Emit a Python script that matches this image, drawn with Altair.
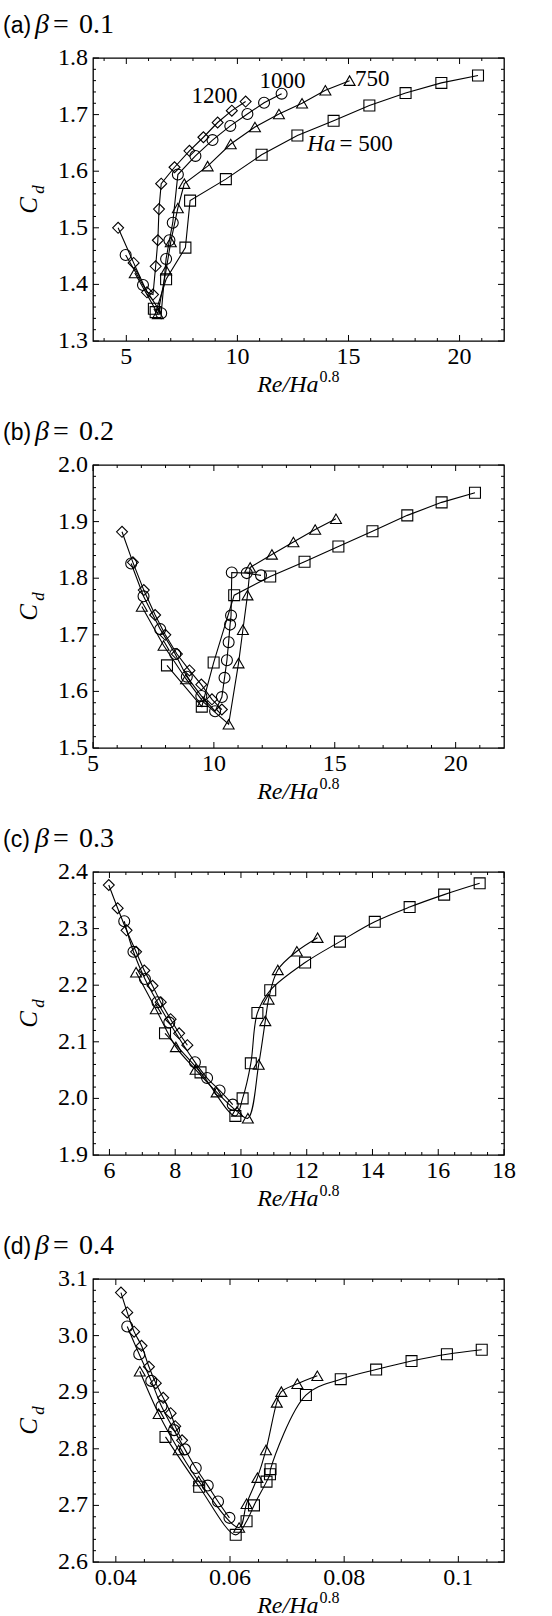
import altair as alt
import pandas as pd

SERIF = "Liberation Serif"
SANS = "Liberation Sans"
W, H = 411, 283

SERIES = ["500", "750", "1000", "1200"]
SHAPES = ["square", "triangle-up", "circle", "diamond"]

# ---------------- (a) beta = 0.1 ----------------
a_500_x = [6.24, 6.32, 6.79, 7.66, 7.87, 9.48, 11.09, 12.70, 14.33, 15.94, 17.57, 19.18, 20.83]
a_500_y = [1.357, 1.351, 1.409, 1.465, 1.548, 1.586, 1.629, 1.663, 1.689, 1.716, 1.738, 1.756, 1.769]
a_750_x = [5.38, 6.42, 6.79, 7.00, 7.32, 7.61, 8.66, 9.70, 10.79, 11.87, 12.91, 13.96, 15.05]
a_750_y = [1.420, 1.348, 1.425, 1.475, 1.535, 1.578, 1.609, 1.648, 1.678, 1.701, 1.720, 1.743, 1.760]
a_1000_x = [4.97, 5.75, 6.57, 6.79, 6.94, 7.09, 7.32, 8.11, 8.88, 9.68, 10.45, 11.20, 11.99]
a_1000_y = [1.452, 1.399, 1.349, 1.445, 1.478, 1.509, 1.594, 1.627, 1.655, 1.680, 1.701, 1.721, 1.737]
a_1200_x = [4.63, 5.33, 5.93, 6.20, 6.32, 6.42, 6.47, 6.57, 7.17, 7.84, 8.47, 9.11, 9.75, 10.37]
a_1200_y = [1.500, 1.438, 1.386, 1.382, 1.432, 1.478, 1.533, 1.578, 1.607, 1.636, 1.660, 1.686, 1.707, 1.723]

# ---------------- (b) beta = 0.2 ----------------
b_500_x = [8.06, 9.50, 9.99, 10.84, 12.33, 13.75, 15.15, 16.56, 18.00, 19.42, 20.80]
b_500_y = [1.646, 1.573, 1.651, 1.770, 1.803, 1.829, 1.856, 1.883, 1.911, 1.934, 1.951]
b_750_x = [7.02, 7.92, 8.85, 9.55, 10.61, 11.02, 11.20, 11.39, 11.50, 12.40, 13.29, 14.19, 15.05]
b_750_y = [1.750, 1.681, 1.622, 1.582, 1.542, 1.650, 1.709, 1.770, 1.819, 1.842, 1.864, 1.886, 1.905]
b_1000_x = [6.58, 7.09, 7.78, 8.40, 8.88, 9.48, 10.05, 10.33, 10.44, 10.54, 10.61, 10.67, 10.71, 10.74, 11.36, 11.95]
b_1000_y = [1.826, 1.768, 1.710, 1.666, 1.626, 1.592, 1.565, 1.590, 1.624, 1.655, 1.687, 1.718, 1.734, 1.810, 1.809, 1.805]
b_1200_x = [6.20, 6.65, 7.10, 7.57, 7.99, 8.47, 8.99, 9.48, 9.92, 10.33]
b_1200_y = [1.882, 1.828, 1.779, 1.735, 1.700, 1.666, 1.637, 1.612, 1.586, 1.568]

# ---------------- (c) beta = 0.3 ----------------
c_500_x = [7.69, 8.77, 9.83, 10.05, 10.30, 10.50, 10.89, 11.95, 13.01, 14.07, 15.13, 16.18, 17.26]
c_500_y = [2.115, 2.046, 1.969, 2.000, 2.062, 2.151, 2.191, 2.240, 2.277, 2.312, 2.338, 2.360, 2.380]
c_750_x = [6.81, 7.41, 8.02, 8.62, 9.26, 9.88, 10.21, 10.54, 10.74, 10.84, 11.12, 11.70, 12.33]
c_750_y = [2.223, 2.158, 2.091, 2.051, 2.011, 1.977, 1.965, 2.060, 2.137, 2.175, 2.227, 2.260, 2.284]
c_1000_x = [6.45, 6.73, 7.08, 7.46, 7.82, 8.60, 8.97, 9.35, 9.75]
c_1000_y = [2.313, 2.259, 2.211, 2.170, 2.134, 2.064, 2.036, 2.014, 1.989]
c_1200_x = [5.98, 6.25, 6.52, 6.81, 7.06, 7.31, 7.56, 7.86, 8.12, 8.37]
c_1200_y = [2.377, 2.336, 2.297, 2.259, 2.226, 2.199, 2.170, 2.140, 2.115, 2.094]

# ---------------- (d) beta = 0.4 ----------------
d_500_x = [0.0487, 0.0546, 0.0610, 0.0629, 0.0642, 0.0664, 0.0670, 0.0671, 0.0733, 0.0794, 0.0856, 0.0918, 0.0980, 0.1041]
d_500_y = [2.821, 2.733, 2.648, 2.672, 2.700, 2.742, 2.755, 2.764, 2.895, 2.923, 2.940, 2.955, 2.967, 2.975]
d_750_x = [0.0442, 0.0475, 0.0510, 0.0545, 0.0616, 0.0629, 0.0648, 0.0663, 0.0682, 0.0690, 0.0718, 0.0753]
d_750_y = [2.937, 2.862, 2.798, 2.743, 2.661, 2.703, 2.749, 2.798, 2.882, 2.901, 2.915, 2.929]
d_1000_x = [0.0420, 0.0441, 0.0462, 0.0480, 0.0502, 0.0521, 0.0540, 0.0561, 0.0579, 0.0599]
d_1000_y = [3.016, 2.967, 2.920, 2.875, 2.833, 2.799, 2.766, 2.735, 2.707, 2.678]
d_1200_x = [0.0409, 0.0420, 0.0432, 0.0445, 0.0458, 0.0470, 0.0483, 0.0496, 0.0504, 0.0516]
d_1200_y = [3.076, 3.041, 3.007, 2.982, 2.945, 2.916, 2.890, 2.863, 2.840, 2.815]

# labelled tick values and their printed labels
a_xmaj = [5, 10, 15, 20]
b_xmaj = [5, 10, 15, 20]
c_xmaj = [6, 8, 10, 12, 14, 16, 18]
d_xmaj = [0.04, 0.06, 0.08, 0.1]
d_xlab = ["0.04", "0.06", "0.08", "0.1"]
a_ymaj = [1.3, 1.4, 1.5, 1.6, 1.7, 1.8]
b_ymaj = [1.5, 1.6, 1.7, 1.8, 1.9, 2.0]
c_ymaj = [1.9, 2.0, 2.1, 2.2, 2.3, 2.4]
d_ymaj = [2.6, 2.7, 2.8, 2.9, 3.0, 3.1]


def minor(lo, hi, step, majors, nd=4):
    out, k = [], 0
    while True:
        v = round(lo + k * step, nd)
        if v > hi + 1e-9:
            break
        if all(abs(v - m) > 1e-9 for m in majors):
            out.append(v)
        k += 1
    return out


def long_frame(xs, ys):
    rows = []
    for s, xv, yv in zip(SERIES, xs, ys):
        for i, (a, b) in enumerate(zip(xv, yv)):
            rows.append({"s": s, "i": i, "x": a, "y": b})
    return pd.DataFrame(rows)


one = pd.DataFrame({"k": [0]})


def text_at(txt, x, y, size, font=SERIF, style="normal", align="left", baseline="alphabetic", angle=0):
    return alt.Chart(one).mark_text(
        text=txt, font=font, fontStyle=style, fontSize=size, align=align,
        baseline=baseline, angle=angle, color="black"
    ).encode(x=alt.value(x), y=alt.value(y))


def tick_rules(vals, channel, scale, length):
    df = pd.DataFrame({"v": vals})
    m = alt.Chart(df).mark_rule(color="black", strokeWidth=1)
    if channel == "x":
        enc = alt.X("v:Q", scale=scale, axis=None)
        return [m.encode(x=enc, y=alt.value(H), y2=alt.value(H - length)),
                m.encode(x=enc, y=alt.value(0), y2=alt.value(length))]
    enc = alt.Y("v:Q", scale=scale, axis=None)
    return [m.encode(y=enc, x=alt.value(0), x2=alt.value(length)),
            m.encode(y=enc, x=alt.value(W), x2=alt.value(W - length))]


def tick_labels(vals, labels, channel, scale):
    df = pd.DataFrame({"v": vals, "t": labels})
    if channel == "x":
        return alt.Chart(df).mark_text(
            font=SERIF, fontSize=24, align="center", baseline="alphabetic", color="black"
        ).encode(x=alt.X("v:Q", scale=scale, axis=None), y=alt.value(H + 23), text="t:N")
    return alt.Chart(df).mark_text(
        font=SERIF, fontSize=24, align="right", baseline="middle", color="black"
    ).encode(y=alt.Y("v:Q", scale=scale, axis=None), x=alt.value(-5), text="t:N")


def panel(df, xdom, ydom, xmaj, xlab, xmin, ymaj, ymin, interp, letter, beta, extra=()):
    xs = alt.Scale(domain=xdom, nice=False, zero=False)
    ys = alt.Scale(domain=ydom, nice=False, zero=False)
    base = alt.Chart(df)
    lines = base.mark_line(color="black", strokeWidth=1.1, interpolate=interp).encode(
        x=alt.X("x:Q", scale=xs, axis=None),
        y=alt.Y("y:Q", scale=ys, axis=None),
        detail="s:N",
        order=alt.Order("i:Q"),
    )
    pts = base.mark_point(filled=False, color="black", size=120, strokeWidth=1.1, opacity=1).encode(
        x=alt.X("x:Q", scale=xs, axis=None),
        y=alt.Y("y:Q", scale=ys, axis=None),
        shape=alt.Shape("s:N", scale=alt.Scale(domain=SERIES, range=SHAPES), legend=None),
    )
    layers = []
    layers += tick_rules(xmaj, "x", xs, 6)
    layers += tick_rules(xmin, "x", xs, 3)
    layers += tick_rules(ymaj, "y", ys, 6)
    layers += tick_rules(ymin, "y", ys, 3)
    layers += [tick_labels(xmaj, xlab, "x", xs),
               tick_labels(ymaj, [f"{v:.1f}" for v in ymaj], "y", ys)]
    layers += [lines, pts]
    layers += list(extra)
    # panel heading
    layers += [
        text_at(f"({letter})", -90, -25, 23, font=SANS),
        text_at("\u03b2", -58, -25, 28, style="italic"),
        text_at("=", -40, -25, 28),
        text_at(beta, -14, -25, 28),
    ]
    # axis titles
    layers += [
        text_at("C", -64, H / 2 + 6, 25, style="italic", align="center", baseline="middle", angle=270),
        text_at("d", -54, H / 2 - 10, 17, style="italic", align="center", baseline="middle", angle=270),
        text_at("Re/Ha", W / 2 + 20, H + 51, 24, style="italic", align="right"),
        text_at("0.8", W / 2 + 21, H + 41, 16),
    ]
    return alt.layer(*layers).properties(width=W, height=H)


# series labels in panel (a)
notes_a = pd.DataFrame({
    "x": [10.0, 10.99, 15.29],
    "y": [1.720, 1.747, 1.750],
    "t": ["1200", "1000", "750"],
    "al": ["right", "left", "left"],
})
sx_a = alt.Scale(domain=[3.5, 22], nice=False, zero=False)
sy_a = alt.Scale(domain=[1.3, 1.8], nice=False, zero=False)
lab_right = alt.Chart(notes_a[notes_a.al == "right"]).mark_text(
    font=SERIF, fontSize=23, align="right", baseline="alphabetic", color="black"
).encode(x=alt.X("x:Q", scale=sx_a, axis=None), y=alt.Y("y:Q", scale=sy_a, axis=None), text="t:N")
lab_left = alt.Chart(notes_a[notes_a.al == "left"]).mark_text(
    font=SERIF, fontSize=23, align="left", baseline="alphabetic", color="black"
).encode(x=alt.X("x:Q", scale=sx_a, axis=None), y=alt.Y("y:Q", scale=sy_a, axis=None), text="t:N")
ha_pos = pd.DataFrame({"x": [14.55], "y": [1.635]})
ha_txt = alt.Chart(ha_pos).mark_text(
    text="Ha", font=SERIF, fontStyle="italic", fontSize=23, align="right", baseline="alphabetic",
    dx=-3, color="black"
).encode(x=alt.X("x:Q", scale=sx_a, axis=None), y=alt.Y("y:Q", scale=sy_a, axis=None))
eq_txt = alt.Chart(ha_pos).mark_text(
    text="= 500", font=SERIF, fontSize=23, align="left", baseline="alphabetic", dx=1, color="black"
).encode(x=alt.X("x:Q", scale=sx_a, axis=None), y=alt.Y("y:Q", scale=sy_a, axis=None))

pa = panel(
    long_frame([a_500_x, a_750_x, a_1000_x, a_1200_x], [a_500_y, a_750_y, a_1000_y, a_1200_y]),
    [3.5, 22], [1.3, 1.8], a_xmaj, [str(v) for v in a_xmaj], minor(4, 21, 1, a_xmaj),
    a_ymaj, minor(1.3, 1.8, 0.02, a_ymaj), "linear", "a", "0.1",
    extra=[lab_right, lab_left, ha_txt, eq_txt],
)
pb = panel(
    long_frame([b_500_x, b_750_x, b_1000_x, b_1200_x], [b_500_y, b_750_y, b_1000_y, b_1200_y]),
    [5, 22], [1.5, 2.0], b_xmaj, [str(v) for v in b_xmaj], minor(6, 21, 1, b_xmaj),
    b_ymaj, minor(1.5, 2.0, 0.02, b_ymaj), "linear", "b", "0.2",
)
pc = panel(
    long_frame([c_500_x, c_750_x, c_1000_x, c_1200_x], [c_500_y, c_750_y, c_1000_y, c_1200_y]),
    [5.5, 18], [1.9, 2.4], c_xmaj, [str(v) for v in c_xmaj], minor(6, 18, 0.5, c_xmaj),
    c_ymaj, minor(1.9, 2.4, 0.02, c_ymaj), "catmull-rom", "c", "0.3",
)
pd_ = panel(
    long_frame([d_500_x, d_750_x, d_1000_x, d_1200_x], [d_500_y, d_750_y, d_1000_y, d_1200_y]),
    [0.036, 0.108], [2.6, 3.1], d_xmaj, d_xlab, minor(0.04, 0.105, 0.005, d_xmaj),
    d_ymaj, minor(2.6, 3.1, 0.02, d_ymaj), "catmull-rom", "d", "0.4",
)

chart = (
    alt.vconcat(pa, pb, pc, pd_, spacing=124, bounds="flush")
    .properties(padding={"left": 2, "top": 10, "right": 5, "bottom": 2})
    .configure_view(stroke="black", strokeWidth=1.3)
)

chart.save("out.html", embed_options={"renderer": "svg", "actions": False})
